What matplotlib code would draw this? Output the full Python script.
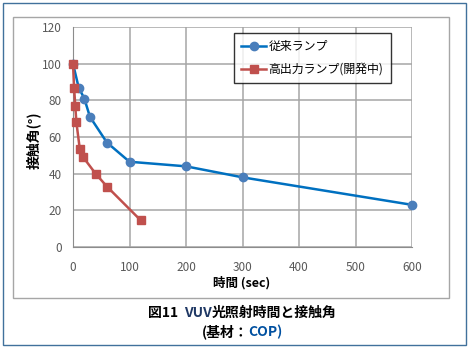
import matplotlib.pyplot as plt
from matplotlib.patches import Rectangle
from matplotlib.offsetbox import TextArea, HPacker, AnchoredOffsetbox

plt.rcParams['font.family'] = ['Noto Sans CJK JP', 'DejaVu Sans']

# data
t_old = [0, 10, 20, 30, 60, 100, 200, 300, 600]
angle_old = [100, 87, 81, 71, 57, 46.5, 44, 38, 23]
t_new = [0, 2, 4, 6, 12, 18, 40, 60, 120]
angle_new = [100, 86.5, 77, 68, 53.5, 49, 40, 33, 14.5]
label_old = '従来ランプ'
label_new = '高出力ランプ(開発中)'
x_ticks = [0, 100, 200, 300, 400, 500, 600]
y_ticks = [0, 20, 40, 60, 80, 100, 120]

W, H = 469, 349
fig = plt.figure(figsize=(W / 100, H / 100), dpi=100)

def fx(px):
    return px / W

def fy(py):
    return 1 - py / H

# outer frame and chart area
fig.patches.append(Rectangle((fx(3), fy(345)), fx(463), 342 / H, transform=fig.transFigure,
                             fill=False, edgecolor='#41719C', linewidth=1.0))
fig.patches.append(Rectangle((fx(13), fy(298)), fx(436), 281 / H, transform=fig.transFigure,
                             fill=False, edgecolor='#A6A6A6', linewidth=1.0))

ax = fig.add_axes([fx(73), fy(247), fx(339), 220 / H])
ax.plot(t_old, angle_old, color='#0070C0', linewidth=1.8, marker='o', markersize=6,
        markerfacecolor='#4A7EBB', markeredgecolor='#4A7EBB', label=label_old,
        zorder=3, clip_on=False)
ax.plot(t_new, angle_new, color='#C0504D', linewidth=1.8, marker='s', markersize=6,
        markerfacecolor='#C0504D', markeredgecolor='#C0504D', label=label_new,
        zorder=4, clip_on=False)

ax.set_xlim(0, 600)
ax.set_ylim(0, 120)
ax.set_xticks(x_ticks)
ax.set_yticks(y_ticks)
ax.grid(True, color='#A6A6A6', linewidth=1.1)
ax.set_axisbelow(True)
for s in ['top', 'right']:
    ax.spines[s].set_visible(False)
for s in ['left', 'bottom']:
    ax.spines[s].set_color('#8C8C8C')
ax.tick_params(length=0, labelsize=8.5, labelcolor='#595959', pad=10)
ax.tick_params(axis='y', pad=8)

fig.text(fx(33), fy(140), '接触角(°)', rotation=90, ha='center', va='center',
         fontsize=10, fontweight='bold')
fig.text(fx(242), fy(283), '時間 (sec)', ha='center', va='center',
         fontsize=9, fontweight='bold')

leg = ax.legend(loc='upper left', bbox_to_anchor=(fx(234), fy(33)),
                bbox_transform=fig.transFigure, fancybox=False, edgecolor='black',
                fontsize=8.6, handlelength=2.1, borderpad=0.6, labelspacing=0.8,
                handletextpad=0.2, borderaxespad=0)
leg.get_frame().set_linewidth(1.0)

# title lines with coloured parts
def title_line(parts, y):
    boxes = [TextArea(s, textprops=dict(color=c, fontsize=10, fontweight='bold'))
             for s, c in parts]
    pack = HPacker(children=boxes, align='baseline', pad=0, sep=0)
    ab = AnchoredOffsetbox(loc='center', child=pack, frameon=False, pad=0,
                           borderpad=0, bbox_to_anchor=(fx(242), fy(y)),
                           bbox_transform=fig.transFigure)
    fig.add_artist(ab)

title_line([('図11  ', 'black'), ('VUV', '#1F3864'), ('光照射時間と接触角', 'black')], 313)
title_line([('(基材：', 'black'), ('COP)', '#0050A0')], 332)

fig.savefig('out.png', dpi=100)
